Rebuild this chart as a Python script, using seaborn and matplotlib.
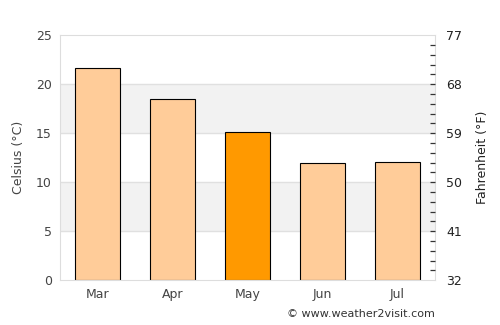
import matplotlib
matplotlib.use("Agg")
import matplotlib.pyplot as plt
import numpy as np
import seaborn as sns

months = ["Mar", "Apr", "May", "Jun", "Jul"]
celsius = [21.6, 18.5, 15.1, 12.0, 12.1]
highlight = "May"
c_ticks = [0, 5, 10, 15, 20, 25]
f_ticks = [32, 41, 50, 59, 68, 77]

sns.set_style("white")
plt.rcParams["font.family"] = ["DejaVu Sans"]

fig = plt.figure(figsize=(5, 3.25), dpi=100)
ax = fig.add_axes([0.12, 0.138, 0.75, 0.754])

# alternating bands
for lo in (5, 15):
    ax.axhspan(lo, lo + 5, color="#f2f2f2", zorder=0, lw=0)
for y in c_ticks[1:-1]:
    ax.axhline(y, color="#e0e0e0", lw=1, zorder=0.5)

colors = ["#ff9900" if m == highlight else "#ffcc99" for m in months]
sns.barplot(x=months, y=celsius, hue=months, palette=colors, legend=False,
            width=0.6, edgecolor="black", linewidth=0.8, saturation=1, ax=ax, zorder=2)

ax.set_xlim(-0.5, 4.5)
ax.set_ylim(0, 25)
ax.set_yticks(c_ticks)
ax.set_ylabel("Celsius (°C)", color="#444444", fontsize=9, labelpad=8)
ax.set_xlabel("")
ax.tick_params(axis="both", colors="#444444", labelsize=9, length=0, pad=6)
for s in ax.spines.values():
    s.set_color("#dddddd")

ax2 = ax.twinx()
ax2.set_ylim(32, 77)
ax2.set_yticks(f_ticks)
ax2.yaxis.remove_overlapping_locs = False
ax2.set_yticks(np.arange(33.8, 76, 1.8), minor=True)
ax2.tick_params(axis="y", which="major", length=0, labelcolor="#222222",
                labelsize=9, pad=8)
ax2.tick_params(axis="y", which="minor", direction="in", length=3.5, width=0.9,
                color="#333333")
ax2.set_ylabel("Fahrenheit (°F)", color="#222222", fontsize=9, labelpad=10)
for s in ax2.spines.values():
    s.set_visible(False)

fig.text(0.87, 0.035, "© www.weather2visit.com", ha="right", va="center",
         fontsize=8, color="#333333")

fig.savefig("out.png", dpi=100)
